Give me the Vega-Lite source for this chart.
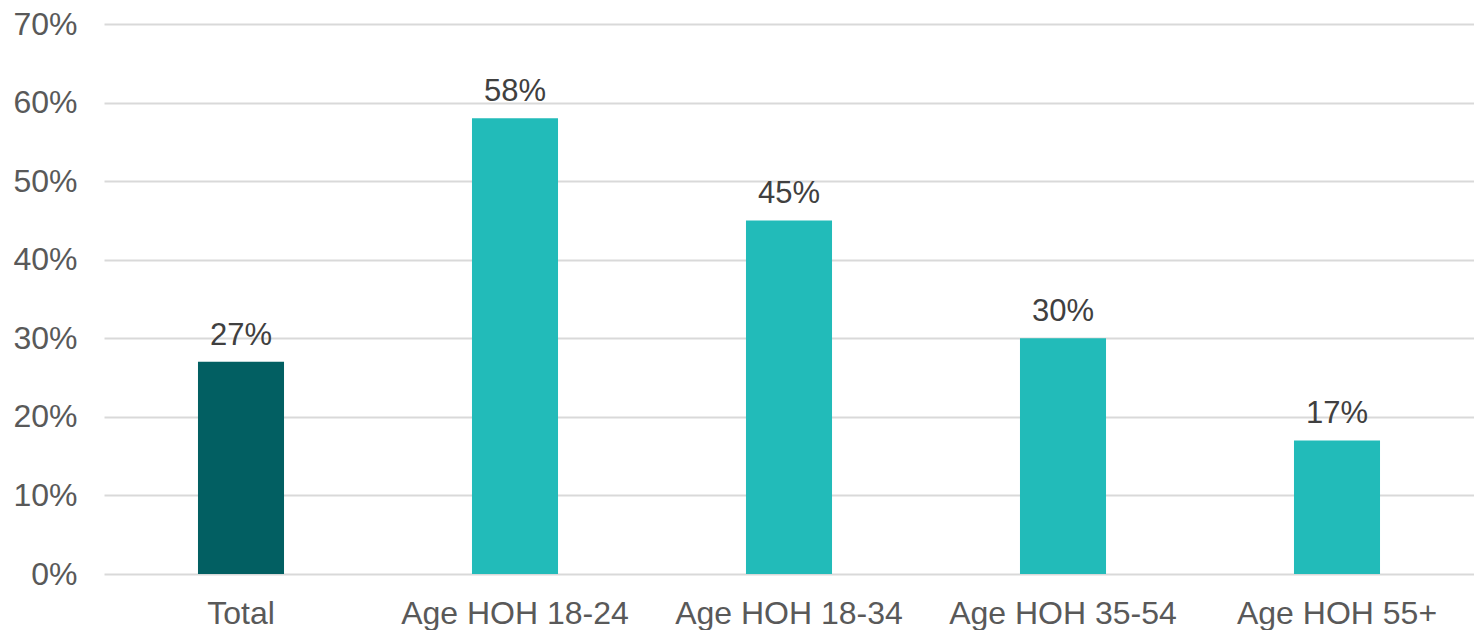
{
  "$schema": "https://vega.github.io/schema/vega-lite/v6.json",
  "autosize": {"type": "none"},
  "padding": {"left": 104, "top": 24, "right": 0, "bottom": 56},
  "width": 1370,
  "height": 550,
  "background": "white",
  "config": {
    "view": {"stroke": null},
    "font": "Liberation Sans"
  },
  "data": {
    "values": [
      {"group": "Total", "kind": "total", "share": 0.27},
      {"group": "Age HOH 18-24", "kind": "age", "share": 0.58},
      {"group": "Age HOH 18-34", "kind": "age", "share": 0.45},
      {"group": "Age HOH 35-54", "kind": "age", "share": 0.30},
      {"group": "Age HOH 55+", "kind": "age", "share": 0.17}
    ]
  },
  "encoding": {
    "x": {
      "field": "group",
      "type": "nominal",
      "sort": null,
      "scale": {"paddingInner": 0.686, "paddingOuter": 0.343},
      "axis": {
        "title": null,
        "labelAngle": 0,
        "labelFontSize": 32,
        "labelLimit": 0,
        "labelColor": "#595959",
        "labelPadding": 24,
        "ticks": false,
        "domain": false,
        "grid": false
      }
    },
    "y": {
      "field": "share",
      "type": "quantitative",
      "scale": {"domain": [0, 0.7], "nice": false},
      "axis": {
        "title": null,
        "format": ".0%",
        "values": [0, 0.1, 0.2, 0.3, 0.4, 0.5, 0.6, 0.7],
        "labelFontSize": 32,
        "labelColor": "#595959",
        "labelPadding": 27,
        "ticks": false,
        "domain": false,
        "grid": true,
        "gridColor": "#d9d9d9",
        "gridWidth": 2
      }
    }
  },
  "layer": [
    {
      "mark": {"type": "bar"},
      "encoding": {
        "color": {
          "field": "kind",
          "type": "nominal",
          "scale": {"domain": ["total", "age"], "range": ["#025f62", "#22bbb9"]},
          "legend": null
        }
      }
    },
    {
      "mark": {"type": "text", "baseline": "alphabetic", "dy": -17, "fontSize": 31, "color": "#404040"},
      "encoding": {
        "text": {"field": "share", "type": "quantitative", "format": ".0%"}
      }
    }
  ]
}
